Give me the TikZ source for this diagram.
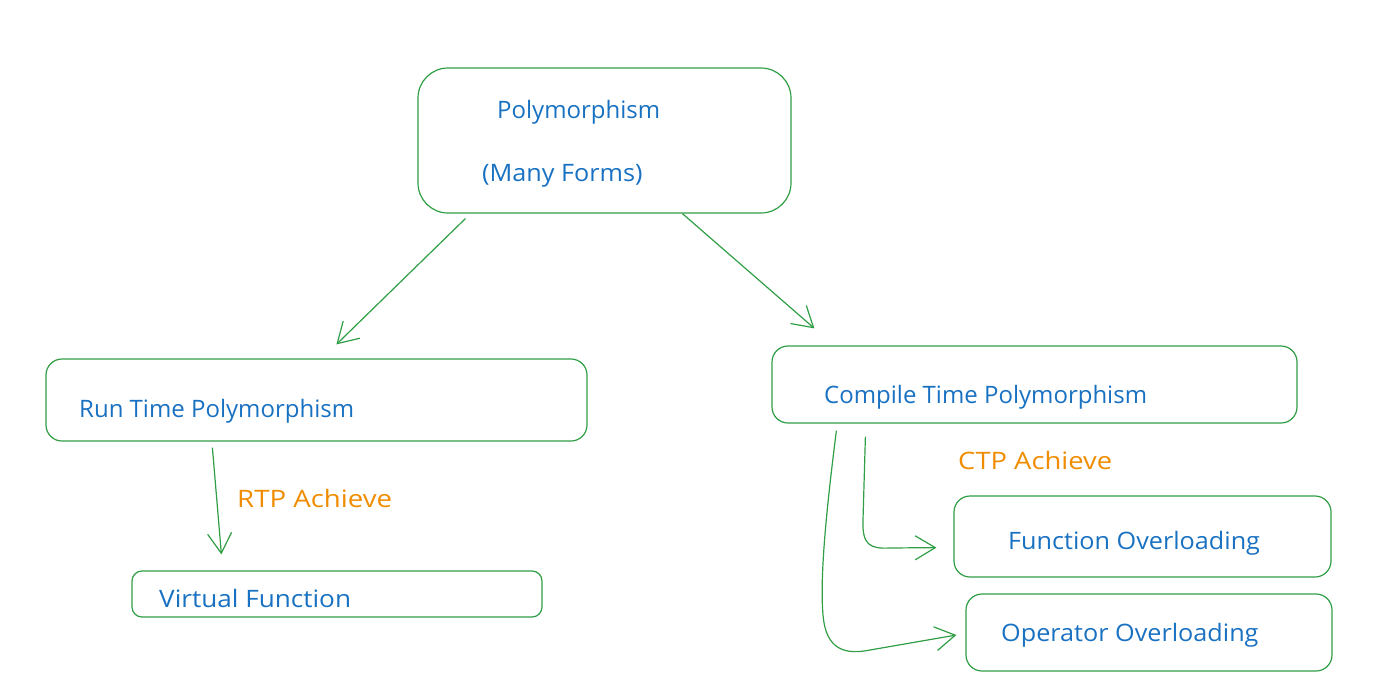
\documentclass[tikz,border=0pt]{standalone}
\usepackage{fontspec}
\setmainfont{Open Sans}
\usetikzlibrary{arrows.meta,calc}
\definecolor{exgreen}{HTML}{2F9E44}
\definecolor{exblue}{HTML}{1971C2}
\definecolor{exorange}{HTML}{F08C00}
\tikzset{
  box/.style={draw=exgreen, line width=1.2pt, rounded corners=16pt, inner sep=0pt},
  lbl/.style={text=exblue, font=\fontsize{24}{28}\selectfont, inner sep=0pt, anchor=base west},
  olbl/.style={text=exorange, font=\fontsize{24}{28}\selectfont, inner sep=0pt, anchor=base west},
  arr/.style={draw=exgreen, line width=1.2pt, -{Straight Barb[length=20pt,width=24pt,line width=1.2pt]}},
}
\begin{document}
\begin{tikzpicture}[x=1pt,y=-1pt]
\useasboundingbox (0,0) rectangle (1381,699);
% boxes
\node[box, rounded corners=30pt, minimum width=373pt, minimum height=145pt] (poly) at (604.5,140.5) {};
\node[box, minimum width=541pt, minimum height=82pt] (rtp) at (316.5,400) {};
\node[box, minimum width=525pt, minimum height=77pt] (ctp) at (1034.5,384.5) {};
\node[box, rounded corners=10pt, minimum width=410pt, minimum height=46pt] (vf) at (337,594) {};
\node[box, minimum width=377pt, minimum height=81pt] (fo) at (1142.5,536.5) {};
\node[box, minimum width=366pt, minimum height=77pt] (oo) at (1149,632.5) {};
% labels
\node[lbl] (t1) at (497,118) {Polymorphism};
\node[lbl, xscale=1.05, transform shape] (t2) at (482,181) {(Many Forms)};
\node[lbl] (t3) at (79,417) {Run Time Polymorphism};
\node[lbl] (t4) at (824,403) {Compile Time Polymorphism};
\node[lbl, xscale=1.09, transform shape] (t5) at (159,607) {Virtual Function};
\node[lbl, xscale=1.05, transform shape] (t6) at (1008,549) {Function Overloading};
\node[lbl, xscale=1.05, transform shape] (t7) at (1001,641) {Operator Overloading};
\node[olbl, xscale=1.15, transform shape] (t8) at (237,507) {RTP Achieve};
\node[olbl, xscale=1.14, transform shape] (t9) at (958,469) {CTP Achieve};
% connectors
\draw[arr] ($(poly.south west)+(48,5)$) -- ($(rtp.north west)+(291,-14)$);
\draw[arr] ($(poly.south west)+(265,0)$) -- ($(ctp.north west)+(43,-17)$);
\draw[arr] ($(rtp.south west)+(167,6)$) -- ($(vf.north west)+(90,-16)$);
\draw[arr] ($(ctp.south west)+(94,13)$) -- (863,520) .. controls (862,545) and (870,549) .. (890,548) -- ($(fo.south west)+(-17,-30)$);
\draw[arr] ($(ctp.south west)+(65,7)$) .. controls (825,520) and (820,580) .. (823,615) .. controls (826,650) and (845,655) .. (870,650) -- ($(oo.west)+(-9,2.5)$);
\end{tikzpicture}
\end{document}
